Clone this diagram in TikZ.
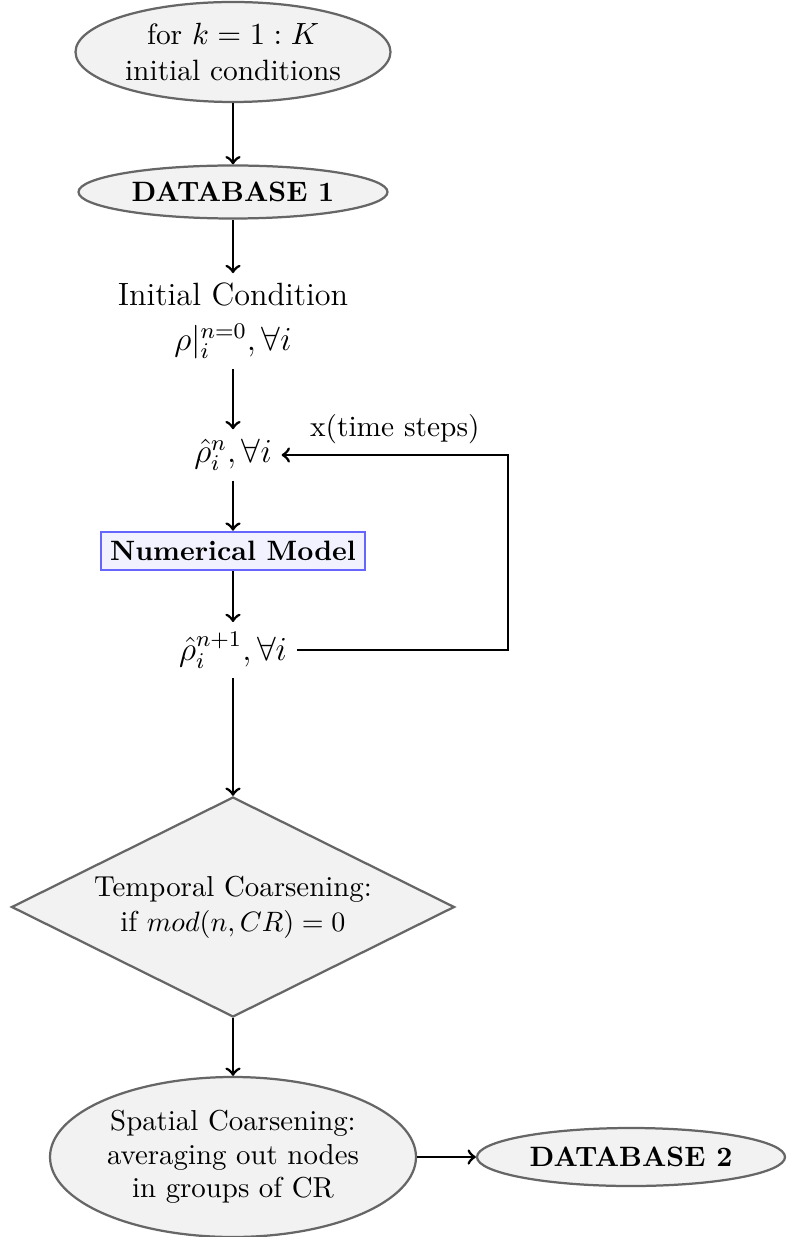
\documentclass[tikz,border=0pt]{standalone}
\usetikzlibrary{shapes.geometric}
\begin{document}
\def\s{0.357pt}
\begin{tikzpicture}[x=0.357pt,y=-0.357pt,
  block/.style={draw=black!60, line width=0.8pt, fill=black!5, align=center, inner sep=0pt},
  oval/.style={block, ellipse},
  plain/.style={align=center},
  conn/.style={->, line width=1pt}]
\useasboundingbox (0,0) rectangle (787,1237);

\node[oval, minimum width=315*\s, minimum height=100*\s, font=\fontsize{10.5}{13}\selectfont] (e1) at (233,52)
  {for $k=1:K$\\initial conditions};
\node[oval, minimum width=309*\s, minimum height=53*\s] (db1) at (233,192)
  {\textbf{DATABASE 1}};
\node[plain, font=\fontsize{11.5}{16}\selectfont] (ic) at (233,321)
  {Initial Condition\\$\rho|_i^{n=0}, \forall i$};
\node[plain, font=\fontsize{11.5}{13}\selectfont] (rn) at (233,455) {$\hat{\rho}_i^{n}, \forall i$};
\node[draw=blue!60, line width=0.8pt, fill=blue!5] (nm) at (233,551) {\textbf{Numerical Model}};
\node[plain, font=\fontsize{11.5}{13}\selectfont] (rn1) at (233,650) {$\hat{\rho}_i^{n+1}, \forall i$};
\node[block, diamond, shape aspect=2, minimum width=443*\s, minimum height=220*\s,
  font=\fontsize{10.3}{12.5}\selectfont] (dia) at (233,907)
  {Temporal Coarsening:\\if $mod(n,CR)=0$};
\node[oval, minimum width=366*\s, minimum height=160*\s, font=\fontsize{10.3}{12}\selectfont] (sc) at (233,1157)
  {Spatial Coarsening:\\averaging out nodes\\in groups of CR};
\node[oval, minimum width=308*\s, minimum height=58*\s] (db2) at (631,1157)
  {\textbf{DATABASE 2}};

\coordinate (lp) at (508,654);

\draw[conn] (e1) -- (db1);
\draw[conn] (db1) -- (ic);
\draw[conn] (ic.south) -- (rn.north);
\draw[conn] (rn.south) -- (nm.north);
\draw[conn] (nm.south) -- (rn1.north);
\draw[conn] (rn1.south) -- (dia.north);
\draw[conn] (dia) -- (sc);
\draw[conn] (sc) -- (db2);
\draw[conn] (rn1.east) -- (rn1.east -| lp) |- node[pos=0.75, above, font=\fontsize{10.5}{12}\selectfont] {x(time steps)} (rn.east);
\end{tikzpicture}
\end{document}
